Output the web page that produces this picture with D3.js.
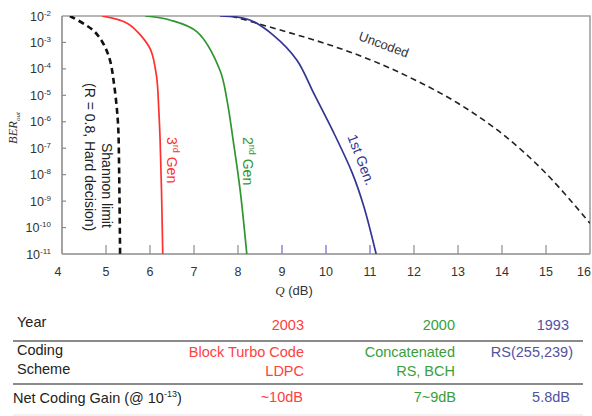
<!DOCTYPE html>
<html>
<head>
<meta charset="utf-8">
<script src="https://cdn.jsdelivr.net/npm/d3@7"></script>
<style>
  body { margin: 0; background: #fff; }
  svg { display: block; font-family: "Liberation Sans", Arial, sans-serif; }
</style>
</head>
<body>
<svg id="chart" width="592" height="416"></svg>
<script>
// ---- data: Q in dB, BER as log10 ----
const shannonQ   = [4.18, 4.70, 4.93, 5.09, 5.18, 5.25, 5.28, 5.30, 5.32];
const shannonLog = [-2, -2.53, -3.02, -3.67, -4.54, -5.56, -6.3, -8.0, -11];
const gen3Q   = [4.91, 5.48, 5.80, 6.02, 6.15, 6.20, 6.23, 6.26, 6.29];
const gen3Log = [-2, -2.27, -2.75, -3.3, -4.3, -5.56, -6.7, -8.5, -11];
const gen2Q   = [5.89, 6.45, 7.07, 7.59, 7.75, 7.89, 8.05, 8.20];
const gen2Log = [-2, -2.15, -2.6, -4.05, -5.18, -6.7, -8.6, -11];
const gen1Q   = [7.59, 8.27, 8.80, 9.34, 9.72, 10.20, 10.60, 10.86, 11.14];
const gen1Log = [-2, -2.15, -2.72, -3.67, -4.92, -6.5, -7.95, -9.2, -11];
const uncodedQ   = [7.85, 9.0, 10.0, 11.0, 12.0, 13.0, 14.0, 15.0, 16.0];
const uncodedLog = [-2, -2.55, -3.05, -3.65, -4.4, -5.3, -6.45, -7.95, -9.84];

const xTicks = [4, 5, 6, 7, 8, 9, 10, 11, 12, 13, 14, 15, 16];
const yExps  = [-2, -3, -4, -5, -6, -7, -8, -9, -10, -11];

const years   = ["2003", "2000", "1993"];
const schemes = [["Block Turbo Code", "LDPC"], ["Concatenated", "RS, BCH"], ["RS(255,239)"]];
const gains   = ["~10dB", "7~9dB", "5.8dB"];

// ---- layout ----
const svg = d3.select("#chart");
const L = 62, R = 590, T = 16, B = 254;
const x = d3.scaleLinear().domain([4, 16]).range([L, R]);
const y = d3.scaleLog().domain([1e-11, 1e-2]).range([B, T]);
const axisCol = "#8c8c8c";
const red = "#ff3030", green = "#2e962e", blue = "#343494";
const tRed = "#ff4040", tGreen = "#3a9e3a", tBlue = "#5252a0";

svg.append("clipPath").attr("id", "clip")
  .append("rect").attr("x", L).attr("y", T).attr("width", R - L).attr("height", B - T);

// frame
svg.append("path").attr("d", `M${L} ${T} L${R} ${T} L${R} ${B}`)
  .attr("fill", "none").attr("stroke", "#a0a0a0").attr("stroke-width", 1.6);

// x ticks (inward)
svg.selectAll(".xt").data(xTicks.slice(1, -1)).join("line")
  .attr("x1", d => x(d)).attr("x2", d => x(d)).attr("y1", B).attr("y2", B - 9)
  .attr("stroke", d => (d >= 9 && d <= 11) ? "#6a6ad0" : axisCol).attr("stroke-width", 1.2);
svg.selectAll(".xl").data(xTicks).join("text")
  .attr("x", d => d === 16 ? 591 : x(d) - (d === 4 ? 4 : 0)).attr("y", 276)
  .attr("text-anchor", d => d === 16 ? "end" : "middle")
  .attr("font-size", 12.5).attr("fill", "#333")
  .text(d => d);

// y ticks
svg.selectAll(".yt").data(yExps.slice(1, -1)).join("line")
  .attr("x1", L).attr("x2", L + 4).attr("y1", d => y(Math.pow(10, d))).attr("y2", d => y(Math.pow(10, d)))
  .attr("stroke", axisCol).attr("stroke-width", 1.2);
const yl = svg.selectAll(".yl").data(yExps).join("text")
  .attr("x", 51).attr("y", d => y(Math.pow(10, d)) + 4.5)
  .attr("text-anchor", "end").attr("font-size", 12.5).attr("fill", "#333");
yl.append("tspan").text("10");
yl.append("tspan").attr("font-size", 8).attr("dy", -5).text(d => "-" + (-d));

// axes lines
svg.append("line").attr("x1", L).attr("x2", L).attr("y1", T).attr("y2", B)
  .attr("stroke", axisCol).attr("stroke-width", 1.6);
svg.append("line").attr("x1", L).attr("x2", R).attr("y1", B).attr("y2", B)
  .attr("stroke", axisCol).attr("stroke-width", 1.6);

// axis titles
const xt = svg.append("text").attr("x", 294).attr("y", 295).attr("text-anchor", "middle")
  .attr("font-size", 13).attr("fill", "#333");
xt.append("tspan").attr("font-family", "'Liberation Serif', serif").attr("font-style", "italic").text("Q");
xt.append("tspan").text(" (dB)");
const yt = svg.append("text").attr("transform", "translate(17,128) rotate(-90)")
  .attr("text-anchor", "middle").attr("fill", "#333")
  .attr("font-family", "'Liberation Serif', serif").attr("font-style", "italic").attr("font-size", 12.5);
yt.append("tspan").text("BER");
yt.append("tspan").attr("font-size", 7).attr("dy", 3).text("out");

// curves
const line = d3.line().x(d => x(d[0])).y(d => y(Math.pow(10, d[1])))
  .curve(d3.curveCatmullRom.alpha(0.5));
const g = svg.append("g").attr("clip-path", "url(#clip)");
function curve(qs, ls, color, width, dash) {
  g.append("path").datum(d3.zip(qs, ls)).attr("d", line)
    .attr("fill", "none").attr("stroke", color).attr("stroke-width", width)
    .attr("stroke-dasharray", dash || null);
}
curve(uncodedQ, uncodedLog, "#222", 1.6, "6,4");
curve(gen1Q, gen1Log, blue, 1.7);
curve(gen2Q, gen2Log, green, 1.7);
curve(gen3Q, gen3Log, red, 1.7);
curve(shannonQ, shannonLog, "#111", 2.6, "6,4");

// curve labels
function rlabel(px, py, angle, color, parts, anchor, size) {
  const t = svg.append("text").attr("transform", `translate(${px},${py}) rotate(${angle})`)
    .attr("font-size", size || 14).attr("fill", color).attr("text-anchor", anchor || "start")
    .attr("dominant-baseline", "central");
  parts.forEach(p => {
    const s = t.append("tspan").text(p[0]);
    if (p[1]) s.attr("font-size", 9).attr("dy", -4);
    if (p[2]) s.attr("dy", 4);
  });
}
rlabel(107, 143, 90, "#222", [["Shannon limit"]]);
rlabel(90, 83, 90, "#222", [["(R = 0.8, Hard decision)"]]);
rlabel(172, 137, 90, red, [["3"], ["rd", 1], [" Gen", 0, 1]]);
rlabel(248, 137, 90, green, [["2"], ["nd", 1], [" Gen", 0, 1]]);
rlabel(352, 135, 69, blue, [["1st Gen."]]);
rlabel(384, 44, 20, "#333", [["Uncoded"]], "middle", 13);

// table
const colRight = [304, 455, 569];
const cellColors = [tRed, tGreen, tBlue];
const fs = 14.5;
function label(xx, yy, lines, color, anchor) {
  const t = svg.append("text").attr("y", yy).attr("font-size", fs).attr("fill", color)
    .attr("text-anchor", anchor || "start");
  lines.forEach((s, k) => t.append("tspan").attr("x", xx).attr("dy", k ? 19 : 0).text(s));
  return t;
}
label(17, 327, ["Year"], "#222");
label(17, 355, ["Coding", "Scheme"], "#222");
const ng = svg.append("text").attr("x", 13).attr("y", 403).attr("font-size", fs).attr("fill", "#222");
ng.append("tspan").text("Net Coding Gain (@ 10");
ng.append("tspan").attr("font-size", 9).attr("dy", -6).text("-13");
ng.append("tspan").attr("dy", 6).text(")");

years.forEach((s, i) => label(colRight[i], 330, [s], cellColors[i], "end"));
schemes.forEach((s, i) => label(colRight[i] + (i === 2 ? 4 : 0), 357, s, cellColors[i], "end"));
gains.forEach((s, i) => label(colRight[i] + (i ? 1 : -1), 402, [s], cellColors[i], "end"));

[341, 384].forEach(yy => svg.append("line").attr("x1", 13).attr("x2", 583)
  .attr("y1", yy).attr("y2", yy).attr("stroke", "#8a8a8a").attr("stroke-width", 2));
svg.append("line").attr("x1", 13).attr("x2", 583).attr("y1", 415).attr("y2", 415)
  .attr("stroke", "#e4e4e4").attr("stroke-width", 1);
</script>
</body>
</html>
